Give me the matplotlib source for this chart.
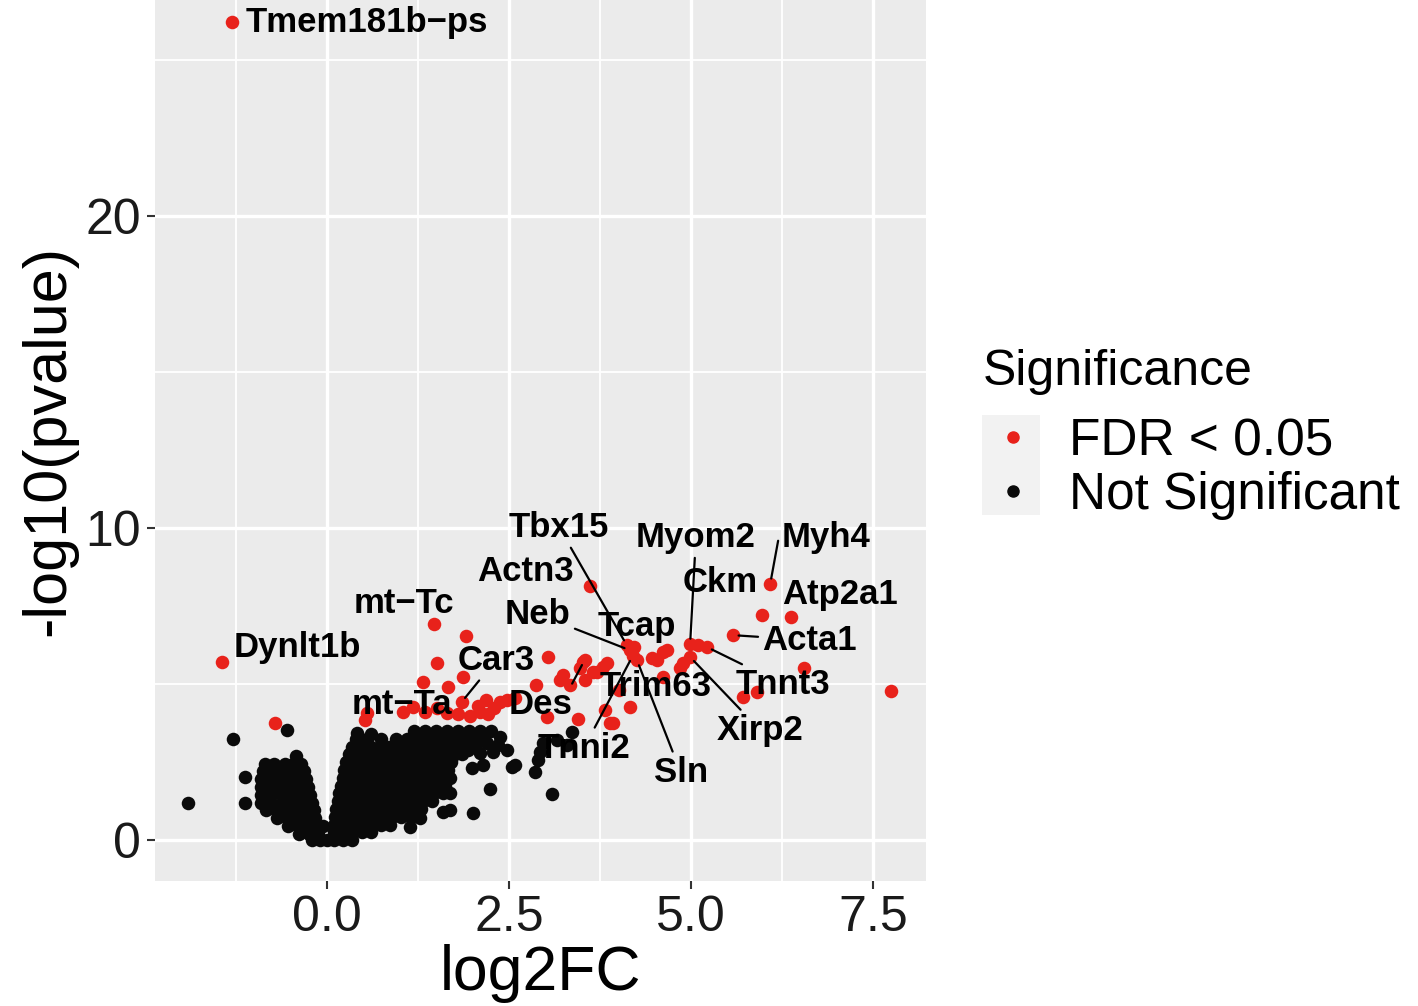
import matplotlib.pyplot as plt
from matplotlib.lines import Line2D
from matplotlib.patches import Rectangle

plt.rcParams['font.family'] = ['Liberation Sans', 'DejaVu Sans']

# --- data (log2FC, -log10 pvalue) ---
# genes with FDR < 0.05
sig_pts = [
    (-1.30, 26.22), (-1.44, 5.71), (-0.71, 3.75), (1.47, 6.92), (1.91, 6.54),
    (1.52, 5.67), (1.32, 5.06), (1.66, 4.90), (1.87, 5.22), (0.52, 3.85),
    (0.55, 4.07), (1.04, 4.10), (1.18, 4.26), (1.35, 4.10), (1.51, 4.23),
    (1.65, 4.07), (1.80, 4.04), (1.96, 3.97), (2.07, 4.29), (2.18, 4.49),
    (2.29, 4.23), (2.38, 4.42), (2.21, 4.04), (2.47, 4.49), (2.58, 4.55),
    (2.10, 4.10), (3.04, 5.87), (2.88, 4.97), (3.02, 3.94), (3.24, 5.29),
    (3.34, 4.97), (3.48, 5.51), (3.54, 5.13), (3.45, 3.88), (3.52, 5.71),
    (3.85, 5.67), (3.65, 5.38), (3.61, 8.14), (4.16, 4.26), (3.89, 3.75),
    (4.12, 6.25), (4.16, 6.09), (4.22, 6.19), (4.20, 5.90), (4.26, 5.77),
    (4.62, 6.03), (4.53, 5.77), (4.89, 5.67), (4.85, 5.51), (4.99, 6.28),
    (5.10, 6.25), (5.22, 6.19), (4.99, 5.87), (6.09, 8.21), (5.98, 7.21),
    (6.37, 7.15), (5.58, 6.57), (6.55, 5.51), (7.75, 4.78), (5.71, 4.58),
    (5.91, 4.74), (4.62, 5.22), (3.82, 4.17), (3.93, 3.75), (4.46, 5.83),
    (3.54, 5.77), (3.20, 5.13), (3.79, 5.54), (4.02, 4.81), (4.67, 6.09),
    (3.71, 5.38), (1.85, 4.42),
]

# genes that are not significant
ns_pts = [
    # left arm
    (-0.2, 0.0), (-0.1, 0.0), (0.0, 0.0), (0.1, 0.0),
    (-0.38, 0.2), (-0.25, 0.2), (-0.12, 0.2),
    (-0.53, 0.45), (-0.4, 0.45), (-0.27, 0.45), (-0.14, 0.45), (-0.05, 0.45),
    (-0.68, 0.7), (-0.55, 0.7), (-0.42, 0.7), (-0.29, 0.7), (-0.16, 0.7),
    (-0.83, 0.95), (-0.7, 0.95), (-0.57, 0.95), (-0.44, 0.95), (-0.3, 0.95), (-0.17, 0.95),
    (-0.9, 1.2), (-0.76, 1.2), (-0.62, 1.2), (-0.48, 1.2), (-0.34, 1.2), (-0.2, 1.2),
    (-0.9, 1.45), (-0.76, 1.45), (-0.62, 1.45), (-0.48, 1.45), (-0.35, 1.45), (-0.23, 1.45),
    (-0.9, 1.7), (-0.76, 1.7), (-0.63, 1.7), (-0.5, 1.7), (-0.37, 1.7), (-0.26, 1.7),
    (-0.9, 1.95), (-0.77, 1.95), (-0.64, 1.95), (-0.51, 1.95), (-0.39, 1.95), (-0.29, 1.95),
    (-0.88, 2.2), (-0.75, 2.2), (-0.62, 2.2), (-0.5, 2.2), (-0.4, 2.2), (-0.32, 2.2),
    (-0.85, 2.45), (-0.72, 2.45), (-0.58, 2.45), (-0.46, 2.45), (-0.36, 2.45),
    (-0.42, 2.7),
    (-1.12, 2.02), (-1.12, 1.19), (-1.9, 1.19), (-1.29, 3.24), (-0.55, 3.53),
    # right arm
    (0.22, 0.0), (0.35, 0.0),
    (0.1, 0.25), (0.22, 0.25), (0.35, 0.25), (0.48, 0.25), (0.6, 0.25),
    (0.1, 0.5), (0.22, 0.5), (0.35, 0.5), (0.48, 0.5), (0.61, 0.5), (0.74, 0.5), (0.87, 0.5),
    (0.11, 0.75), (0.24, 0.75), (0.37, 0.75), (0.5, 0.75), (0.63, 0.75), (0.76, 0.75),
    (0.89, 0.75), (1.02, 0.75), (1.15, 0.75),
    (0.13, 1.0), (0.26, 1.0), (0.39, 1.0), (0.52, 1.0), (0.65, 1.0), (0.78, 1.0),
    (0.91, 1.0), (1.04, 1.0), (1.17, 1.0), (1.3, 1.0),
    (0.15, 1.25), (0.28, 1.25), (0.41, 1.25), (0.54, 1.25), (0.67, 1.25), (0.8, 1.25),
    (0.93, 1.25), (1.06, 1.25), (1.19, 1.25), (1.32, 1.25), (1.45, 1.25),
    (0.17, 1.5), (0.3, 1.5), (0.43, 1.5), (0.56, 1.5), (0.69, 1.5), (0.82, 1.5),
    (0.95, 1.5), (1.08, 1.5), (1.21, 1.5), (1.34, 1.5), (1.47, 1.5), (1.6, 1.5),
    (0.2, 1.75), (0.33, 1.75), (0.46, 1.75), (0.59, 1.75), (0.72, 1.75), (0.85, 1.75),
    (0.98, 1.75), (1.11, 1.75), (1.24, 1.75), (1.37, 1.75), (1.5, 1.75), (1.63, 1.75),
    (0.22, 2.0), (0.35, 2.0), (0.48, 2.0), (0.61, 2.0), (0.74, 2.0), (0.87, 2.0),
    (1.0, 2.0), (1.13, 2.0), (1.26, 2.0), (1.39, 2.0), (1.52, 2.0), (1.65, 2.0),
    (0.24, 2.25), (0.37, 2.25), (0.5, 2.25), (0.63, 2.25), (0.76, 2.25), (0.89, 2.25),
    (1.02, 2.25), (1.15, 2.25), (1.28, 2.25), (1.41, 2.25), (1.54, 2.25), (1.67, 2.25),
    (0.27, 2.5), (0.4, 2.5), (0.53, 2.5), (0.66, 2.5), (0.79, 2.5), (0.92, 2.5),
    (1.05, 2.5), (1.18, 2.5), (1.31, 2.5), (1.44, 2.5), (1.57, 2.5), (1.7, 2.5),
    (0.3, 2.75), (0.43, 2.75), (0.56, 2.75), (0.69, 2.75), (0.82, 2.75), (0.95, 2.75),
    (1.08, 2.75), (1.21, 2.75), (1.34, 2.75), (1.47, 2.75), (1.6, 2.75), (1.73, 2.75), (1.86, 2.75),
    (0.34, 3.0), (0.47, 3.0), (0.6, 3.0), (0.73, 3.0), (0.86, 3.0), (0.99, 3.0), (1.12, 3.0),
    (1.25, 3.0), (1.38, 3.0), (1.51, 3.0), (1.64, 3.0), (1.77, 3.0), (1.9, 3.0), (2.03, 3.0),
    (0.4, 3.25), (0.55, 3.25), (0.75, 3.25), (0.95, 3.25), (1.1, 3.25), (1.25, 3.25),
    (1.4, 3.25), (1.55, 3.25), (1.7, 3.25), (1.85, 3.25), (2.0, 3.25), (2.15, 3.25),
    (0.42, 3.45), (0.6, 3.4), (1.2, 3.5), (1.35, 3.5), (1.5, 3.5), (1.65, 3.5),
    (1.8, 3.5), (1.95, 3.5), (2.1, 3.5), (2.25, 3.5),
    # scattered to the right
    (2.24, 1.63), (3.09, 1.47), (2.01, 0.87), (1.69, 0.96), (1.59, 0.90), (1.28, 0.71),
    (1.14, 0.42), (1.99, 2.31), (2.55, 2.34), (2.86, 2.18), (2.97, 3.11), (2.93, 2.82),
    (2.90, 2.56), (3.16, 3.21), (3.37, 3.46), (3.30, 3.04), (2.38, 3.30), (2.47, 2.88),
    (2.58, 2.40), (2.28, 2.82), (2.10, 2.79), (2.14, 2.40), (1.94, 2.88), (1.83, 3.11),
    (1.72, 2.66), (1.69, 1.99), (1.69, 1.51), (1.62, 3.30), (2.2, 3.1), (2.35, 3.05),
]

# labelled genes and the point each one belongs to
genes = ['Tmem181b\u2212ps', 'Dynlt1b', 'mt\u2212Tc', 'Car3', 'mt\u2212Ta', 'Des',
         'Tbx15', 'Actn3', 'Neb', 'Tcap', 'Trim63', 'Tnni2', 'Sln',
         'Myom2', 'Ckm', 'Myh4', 'Atp2a1', 'Acta1', 'Tnnt3', 'Xirp2']
gene_x = [-1.30, -1.44, 1.47, 1.85, 0.52, 3.54, 4.12, 3.61, 4.16, 4.22,
          4.62, 4.20, 4.26, 4.99, 5.10, 6.09, 6.37, 5.58, 5.22, 4.99]
gene_y = [26.22, 5.71, 6.92, 4.42, 3.85, 5.77, 6.25, 8.14, 6.09, 6.19,
          5.22, 5.90, 5.77, 6.28, 6.25, 8.21, 7.15, 6.57, 6.19, 5.87]

# where the repelled labels sit, whether a segment is drawn, and where it leaves the label
label_pos = [(0.55, 26.22), (-0.40, 6.19), (1.06, 7.60), (2.32, 5.77), (1.03, 4.36),
             (2.93, 4.36), (3.19, 10.03), (2.73, 8.62), (2.90, 7.24), (4.26, 6.86),
             (4.52, 4.94), (3.53, 2.95), (4.86, 2.18), (5.07, 9.71), (5.40, 8.27),
             (6.85, 9.71), (7.05, 7.88), (6.63, 6.41), (6.26, 5.00), (5.95, 3.53)]
segment = [False, False, False, True, False, True, True, False, True, False,
           False, True, True, True, False, True, False, True, True, True]
seg_from = [(0.5, 0.5)] * 20
seg_from[5] = (0.9, 0.75)    # Des
seg_from[15] = (-0.02, 0.6)  # Myh4

sig_color = '#E8221B'
ns_color = '#0A0A0A'

fig = plt.figure(figsize=(14.18, 10.06), dpi=100)
ax = fig.add_axes([155 / 1418, 125 / 1006, 771 / 1418, 881 / 1006])
ax.set_facecolor('#EBEBEB')

ax.scatter([p[0] for p in ns_pts], [p[1] for p in ns_pts], s=95, color=ns_color,
           linewidths=0, zorder=2)
ax.scatter([p[0] for p in sig_pts], [p[1] for p in sig_pts], s=95, color=sig_color,
           linewidths=0, zorder=3)

for g, x, y, (lx, ly), seg, rp in zip(genes, gene_x, gene_y, label_pos, segment, seg_from):
    arrow = None
    if seg:
        arrow = dict(arrowstyle='-', color='black', lw=1.6, shrinkA=1, shrinkB=4, relpos=rp)
    ax.annotate(g, xy=(x, y), xytext=(lx, ly), ha='center', va='center',
                fontsize=25, fontweight='bold', color='black',
                arrowprops=arrow, zorder=4)

ax.set_xlim(-2.36, 8.23)
ax.set_ylim(-1.31, 26.93)
ax.set_xticks([0, 2.5, 5, 7.5])
ax.set_xticklabels(['0.0', '2.5', '5.0', '7.5'])
ax.set_xticks([-1.25, 1.25, 3.75, 6.25], minor=True)
ax.set_yticks([0, 10, 20])
ax.set_yticks([5, 15, 25], minor=True)
ax.grid(which='major', color='white', lw=2.4)
ax.grid(which='minor', color='white', lw=1.3)
ax.set_axisbelow(True)
ax.tick_params(which='minor', length=0)
ax.tick_params(which='major', length=6, width=1.5, color='#333333',
               labelsize=36, labelcolor='#1A1A1A', pad=4)
for s in ax.spines.values():
    s.set_visible(False)

ax.set_xlabel('log2FC', fontsize=45, labelpad=2)
ax.set_ylabel('-log10(pvalue)', fontsize=44, labelpad=6)

# legend with the grey key background like ggplot
fig.text(983 / 1418, 1 - 385 / 1006, 'Significance', fontsize=36, va='baseline', ha='left')
fig.add_artist(Rectangle((982 / 1418, (1006 - 515) / 1006), 58 / 1418, 100 / 1006,
                         transform=fig.transFigure, facecolor='#F2F2F2',
                         edgecolor='none', zorder=0))
handles = [Line2D([], [], ls='none', marker='o', ms=8, color=sig_color),
           Line2D([], [], ls='none', marker='o', ms=8, color=ns_color)]
fig.legend(handles, ['FDR < 0.05', 'Not Significant'],
           loc='upper left', bbox_to_anchor=(987 / 1418, 1 - 417 / 1006),
           frameon=False, fontsize=37, handlelength=1.0, handletextpad=0.6,
           labelspacing=0.1, borderpad=0, borderaxespad=0)

fig.savefig('out.png', dpi=100)
